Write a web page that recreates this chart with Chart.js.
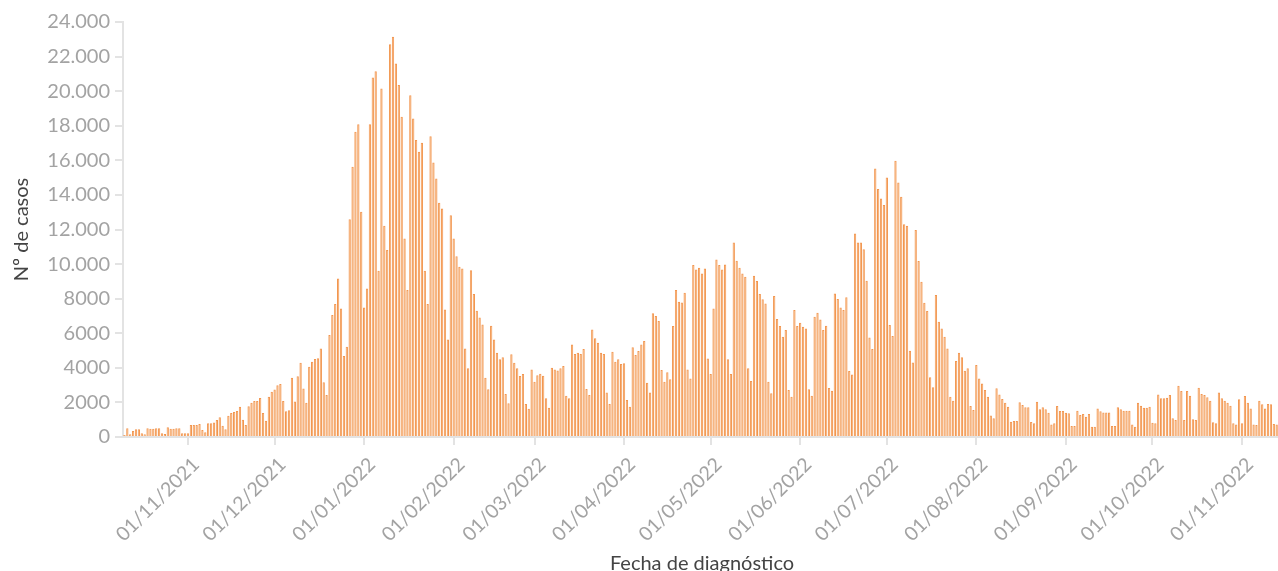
<!DOCTYPE html>
<html>
<head>
<meta charset="utf-8">
<script src="https://cdn.jsdelivr.net/npm/chart.js@4.4.0/dist/chart.umd.min.js"></script>
<style>
    html, body { margin: 0; padding: 0; background: #fff; overflow: hidden; }
    #wrap { position: relative; width: 1281px; height: 571px; }
</style>
</head>
<body>
<div id="wrap"><canvas id="casesChart"></canvas></div>
<script>
// first day shown: 10/10/2021, one bar per day
var startYear = 2021;
var startMonth = 9;
var startDay = 10;

var yTicks = [0, 2000, 4000, 6000, 8000, 10000, 12000, 14000, 16000, 18000, 20000, 22000, 24000];

// oct - nov 2021
var casesOctNov21 = [120, 510, 160, 350, 450, 450, 215, 160, 510, 470, 470, 510, 510, 215, 180, 570, 470, 470, 510, 510, 215, 215,
    215, 690, 690, 690, 745, 410, 275, 800, 800, 840, 980, 1140, 650, 450, 1235, 1390, 1450, 1510, 1745, 1000, 690,
    1785, 1980, 2080, 2080, 2255, 1390, 940, 2330, 2610];
// dec 2021
var casesDec21 = [2745, 3000, 3060, 2080, 1490, 1550, 3420, 2060, 3520, 4300, 2810, 1985, 4065, 4355, 4510, 4550, 5125, 3160,
    2430, 5900, 7050, 7690, 9170, 7435, 4680, 5220, 12600, 15630, 17650, 18090, 13025];
// jan 2022
var casesJan22 = [7495, 8590, 18090, 20790, 21155, 9615, 20150, 12215, 10810, 22715, 23140, 21600, 20350, 18515, 11480, 8500,
    19770, 18420, 17170, 16490, 17010, 9615, 7690, 17400, 15880, 14950, 13545, 13220, 7380, 5645, 12830];
// feb 2022
var casesFeb22 = [11480, 10460, 9845, 9750, 5125, 3970, 9650, 8265, 7300, 6915, 6510, 3430, 2755, 6435, 5645, 4875, 4490, 4605,
    2485, 1945, 4780, 4295, 3970, 3525, 3640, 1910, 1640, 3910];
// mar 2022
var casesMar22 = [3200, 3575, 3660, 3535, 2235, 1695, 4010, 3910, 3850, 3970, 4105, 2390, 2235, 5355, 4800, 4875, 4800, 5085,
    2775, 2430, 6220, 5705, 5455, 4875, 4800, 2580, 1910, 4930, 4355, 4490, 4220];
// apr 2022
var casesApr22 = [4260, 2140, 1755, 5185, 4740, 4970, 5355, 5550, 3140, 2580, 7150, 6995, 6705, 3870, 3200, 3740, 3335, 6415,
    8500, 7825, 7785, 8340, 3910, 3380, 9940, 9690, 9790, 9460, 9750, 4545];
// may 2022
var casesMay22 = [3640, 7435, 10270, 9940, 9690, 9980, 4490, 3640, 11250, 10190, 9790, 9460, 9270, 3970, 3235, 9325, 9015, 8265,
    7960, 7725, 3200, 2525, 8150, 6820, 6415, 5800, 6185, 2715, 2330, 7340, 6415];
// jun 2022
var casesJun22 = [6610, 6380, 6280, 2755, 2390, 6955, 7185, 6800, 6185, 6435, 2830, 2680, 8305, 7975, 7495, 7340, 8075, 3815,
    3620, 11770, 11250, 11250, 10865, 9035, 5760, 5085, 15530, 14335, 13795, 13410];
// jul 2022
var casesJul22 = [15010, 6475, 5840, 15970, 14720, 13890, 12310, 12215, 4990, 4315, 11965, 10175, 8980, 7765, 7285, 3450, 2870,
    8210, 6665, 6280, 5800, 5125, 2330, 2100, 4395, 4875, 4605, 3835, 3970, 1790, 1560];
// aug 2022
var casesAug22 = [4160, 3390, 3100, 2715, 2330, 1250, 1080, 2815, 2465, 2195, 1985, 1755, 885, 925, 925, 2005, 1850, 1715, 1715,
    865, 790, 2040, 1600, 1715, 1600, 1405, 730, 790, 1790, 1505, 1505];
// sep 2022
var casesSep22 = [1405, 1370, 635, 635, 1520, 1270, 1330, 1175, 1330, 600, 600, 1655, 1485, 1415, 1415, 1415, 635, 635, 1715,
    1600, 1520, 1520, 1520, 730, 600, 1985, 1810, 1695, 1695, 1755];
// oct - nov 2022
var casesOctNov22 = [830, 790, 2465, 2235, 2235, 2275, 2430, 1080, 985, 2965, 2660, 985, 2660, 2390, 1020, 985, 2850, 2485, 2430,
    2295, 2100, 850, 790, 2580, 2235, 2100, 1985, 1810, 790, 730, 2180, 790, 2370, 1985, 1655, 730, 695, 2100, 1890, 1655,
    1910, 1890, 750, 730, 2330];

var cases = casesOctNov21.concat(casesDec21, casesJan22, casesFeb22, casesMar22, casesApr22, casesMay22,
    casesJun22, casesJul22, casesAug22, casesSep22, casesOctNov22);

var days = [];
for (let i = 0; i < cases.length; i++) {
    var d = new Date(startYear, startMonth, startDay + i);
    var dd = String(d.getDate()).padStart(2, "0");
    var mm = String(d.getMonth() + 1).padStart(2, "0");
    days.push(dd + "/" + mm + "/" + d.getFullYear());
}

function formatCasos(v) {
    if (v < 10000) return String(v);
    var s = String(v);
    return s.slice(0, s.length - 3) + "." + s.slice(s.length - 3);
}

var axisGrey = "#a3a3a3";
var lineGrey = "#e3e3e3";

var ctx = document.getElementById("casesChart").getContext("2d");
var casesChart = new Chart(ctx, {
    type: 'bar',
    data: {
        labels: days,
        datasets: [{
            label: 'Nº de casos',
            data: cases,
            backgroundColor: "#f6ae74",
            borderColor: "#f2964f",
            borderWidth: 1,
            barPercentage: 0.8,
            categoryPercentage: 1
        }]
    },
    options: {
        responsive: true,
        maintainAspectRatio: false,
        animation: false,
        layout: { padding: { top: 22, right: 0, left: 10, bottom: 0 } },
        plugins: {
            legend: { display: false },
            tooltip: { enabled: false }
        },
        scales: {
            x: {
                offset: true,
                afterFit: function(scale) { scale.height = 134; },
                grid: { offset: false, drawOnChartArea: false, drawTicks: true, tickLength: 8, color: lineGrey, lineWidth: 2 },
                border: { color: lineGrey, width: 2 },
                ticks: {
                    autoSkip: false,
                    maxRotation: 45,
                    minRotation: 45,
                    padding: 8,
                    labelOffset: 8,
                    color: axisGrey,
                    font: { family: "Lato", size: 19.5 },
                    callback: function(value, index) {
                        var lbl = days[index];
                        return lbl.indexOf("01/") === 0 ? lbl : null;
                    }
                },
                title: {
                    display: true,
                    text: 'Fecha de diagnóstico',
                    color: "#444",
                    font: { family: "Lato", size: 20 },
                    padding: { top: 0, bottom: -5 }
                }
            },
            y: {
                min: 0,
                max: 24000,
                afterFit: function(scale) { scale.width = 113; },
                afterBuildTicks: function(scale) {
                    scale.ticks = yTicks.map(function(v) { return { value: v }; });
                },
                grid: { drawOnChartArea: false, drawTicks: true, tickLength: 8, color: lineGrey, lineWidth: 2 },
                border: { color: lineGrey, width: 2 },
                ticks: {
                    padding: 5,
                    color: axisGrey,
                    font: { family: "Lato", size: 20 },
                    callback: function(value) { return formatCasos(value); }
                },
                title: {
                    display: true,
                    text: 'Nº de casos',
                    color: "#444",
                    font: { family: "Lato", size: 20 },
                    padding: { top: 0, bottom: 4 }
                }
            }
        }
    }
});
</script>
</body>
</html>
